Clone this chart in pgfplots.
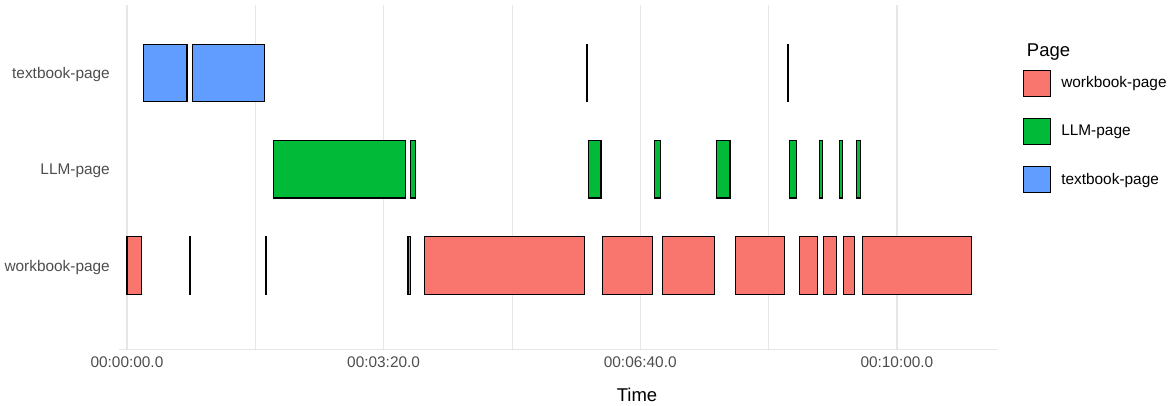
\documentclass[border=0pt]{standalone}
\usepackage{fontspec}
\setmainfont{Liberation Sans}
\usepackage{pgfplots}
\pgfplotsset{compat=1.18}
\definecolor{wb}{HTML}{F8766D}
\definecolor{llm}{HTML}{00BA38}
\definecolor{tb}{HTML}{619CFF}
\definecolor{gridc}{HTML}{E6E6E6}
\definecolor{axtext}{HTML}{4D4D4D}
\begin{document}
\begin{tikzpicture}
\useasboundingbox (0,0) rectangle (1170bp,406bp);
\begin{axis}[
  at={(119bp,57bp)}, anchor=south west,
  scale only axis, width=878bp, height=344bp,
  xmin=-6.2, xmax=678, ymin=0.129, ymax=3.707,
  axis x line*=bottom, axis y line*=left,
  x axis line style={-, draw=gridc, line width=1bp},
  y axis line style={-, draw=none},
  xtick={0,200,400,600},
  xticklabels={00:00:00.0,00:03:20.0,00:06:40.0,00:10:00.0},
  minor xtick={100,300,500},
  ytick={1,2,3},
  yticklabels={workbook-page,LLM-page,textbook-page},
  major tick length=0pt, minor tick length=0pt,
  xmajorgrids, xminorgrids,
  major grid style={draw=gridc, line width=1.2bp},
  minor grid style={draw=gridc, line width=0.7bp},
  tick label style={font=\fontsize{15.4bp}{18bp}\selectfont, text=axtext, inner sep=0pt},
  xticklabel style={anchor=north, yshift=-7.5bp},
  yticklabel style={anchor=east, xshift=-9bp, yshift=-1.8bp},
  xlabel={Time},
  xlabel style={at={(axis description cs:0.59,0)}, anchor=north, yshift=-39bp, inner sep=0pt, font=\fontsize{18.5bp}{22bp}\selectfont},
  unbounded coords=jump,
  legend image code/.code={\draw[#1] (0bp,-13bp) rectangle (27bp,13bp);},
  legend style={at={(axis description cs:1.0296,0.813)}, anchor=north west, draw=none, fill=none, inner sep=0pt, row sep=21bp, column sep=10bp, nodes={inner sep=0pt, anchor=west, font=\fontsize{15.4bp}{18bp}\selectfont}},
]
% workbook-page
\addplot[fill=wb, draw=black, line width=1.1bp, line cap=rect, mark=none] coordinates {
(0,0.7) (11.5,0.7) (11.5,1.3) (0,1.3) (0,0.7) (nan,nan)
(48.8,0.7) (49.6,0.7) (49.6,1.3) (48.8,1.3) (48.8,0.7) (nan,nan)
(108.0,0.7) (108.8,0.7) (108.8,1.3) (108.0,1.3) (108.0,0.7) (nan,nan)
(219.0,0.7) (220.8,0.7) (220.8,1.3) (219.0,1.3) (219.0,0.7) (nan,nan)
(232.2,0.7) (356.3,0.7) (356.3,1.3) (232.2,1.3) (232.2,0.7) (nan,nan)
(370.4,0.7) (409.6,0.7) (409.6,1.3) (370.4,1.3) (370.4,0.7) (nan,nan)
(417.1,0.7) (458.2,0.7) (458.2,1.3) (417.1,1.3) (417.1,0.7) (nan,nan)
(474.0,0.7) (512.2,0.7) (512.2,1.3) (474.0,1.3) (474.0,0.7) (nan,nan)
(524.4,0.7) (538.2,0.7) (538.2,1.3) (524.4,1.3) (524.4,0.7) (nan,nan)
(542.9,0.7) (553.2,0.7) (553.2,1.3) (542.9,1.3) (542.9,0.7) (nan,nan)
(558.2,0.7) (567.0,0.7) (567.0,1.3) (558.2,1.3) (558.2,0.7) (nan,nan)
(573.0,0.7) (657.9,0.7) (657.9,1.3) (573.0,1.3) (573.0,0.7)
};
\addlegendentry{workbook-page}
% LLM-page
\addplot[fill=llm, draw=black, line width=1.1bp, line cap=rect, mark=none] coordinates {
(114.0,1.7) (217.2,1.7) (217.2,2.3) (114.0,2.3) (114.0,1.7) (nan,nan)
(221.3,1.7) (225.0,1.7) (225.0,2.3) (221.3,2.3) (221.3,1.7) (nan,nan)
(359.5,1.7) (369.4,1.7) (369.4,2.3) (359.5,2.3) (359.5,1.7) (nan,nan)
(410.9,1.7) (415.9,1.7) (415.9,2.3) (410.9,2.3) (410.9,1.7) (nan,nan)
(459.5,1.7) (469.9,1.7) (469.9,2.3) (459.5,2.3) (459.5,1.7) (nan,nan)
(516.6,1.7) (522.1,1.7) (522.1,2.3) (516.6,2.3) (516.6,1.7) (nan,nan)
(539.5,1.7) (541.8,1.7) (541.8,2.3) (539.5,2.3) (539.5,1.7) (nan,nan)
(555.0,1.7) (557.7,1.7) (557.7,2.3) (555.0,2.3) (555.0,1.7) (nan,nan)
(568.6,1.7) (571.7,1.7) (571.7,2.3) (568.6,2.3) (568.6,1.7)
};
\addlegendentry{LLM-page}
% textbook-page
\addplot[fill=tb, draw=black, line width=1.1bp, line cap=rect, mark=none] coordinates {
(12.7,2.7) (46.8,2.7) (46.8,3.3) (12.7,3.3) (12.7,2.7) (nan,nan)
(50.9,2.7) (107.0,2.7) (107.0,3.3) (50.9,3.3) (50.9,2.7) (nan,nan)
(358.3,2.7) (359.1,2.7) (359.1,3.3) (358.3,3.3) (358.3,2.7) (nan,nan)
(514.7,2.7) (515.6,2.7) (515.6,3.3) (514.7,3.3) (514.7,2.7)
};
\addlegendentry{textbook-page}
\end{axis}
\node[anchor=west, inner sep=0pt, font=\fontsize{18.5bp}{22bp}\selectfont] at (1026.7bp,354.3bp) {Page};
\end{tikzpicture}
\end{document}
